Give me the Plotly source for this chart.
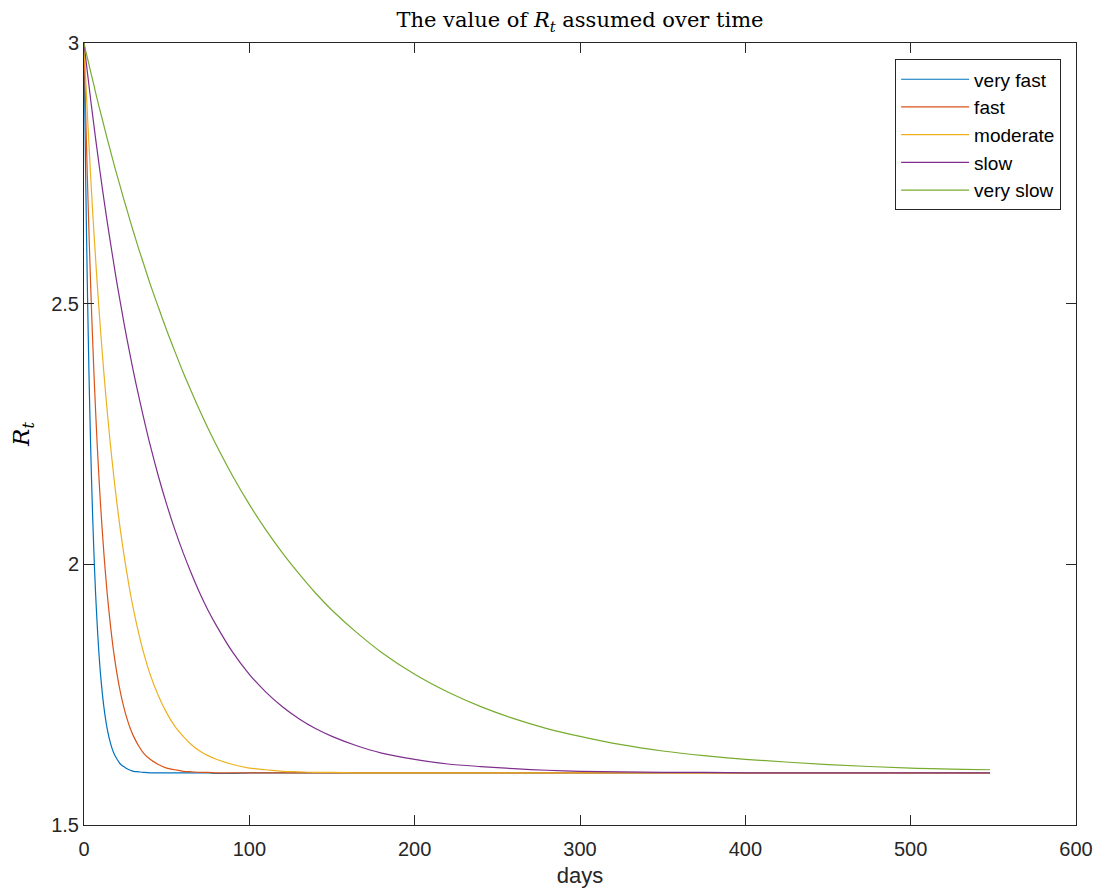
import plotly.graph_objects as go

days = [0, 1, 2, 3, 4, 5, 6, 7, 8, 9, 10, 12, 14, 16, 18, 20, 22, 24, 26, 28, 30, 33, 36, 40,
        45, 50, 55, 60, 65, 70, 75, 80, 90, 100, 110, 120, 130, 140, 150, 165, 180, 200,
        220, 240, 260, 280, 300, 325, 350, 375, 400, 450, 500, 548]

very_fast = [3.000, 2.746, 2.538, 2.368, 2.229, 2.115, 2.022, 1.945, 1.883, 1.831, 1.789,
             1.727, 1.685, 1.657, 1.638, 1.626,
             1.617, 1.612, 1.608, 1.605, 1.603,
             1.602, 1.601, 1.600,
             1.600, 1.600, 1.600, 1.600, 1.600, 1.600, 1.600, 1.599,
             1.599, 1.600, 1.600, 1.600, 1.600, 1.600, 1.600,
             1.600, 1.600, 1.600,
             1.600, 1.600, 1.600, 1.600, 1.600,
             1.600, 1.600, 1.600, 1.600,
             1.600, 1.600, 1.600]
fast = [3.000, 2.867, 2.746, 2.637, 2.538, 2.449, 2.368, 2.295, 2.229, 2.169, 2.115,
        2.022, 1.945, 1.883, 1.831, 1.789,
        1.755, 1.727, 1.704, 1.685, 1.670,
        1.652, 1.638, 1.626,
        1.616, 1.609, 1.606, 1.603, 1.602, 1.601, 1.601, 1.600,
        1.600, 1.600, 1.600, 1.600, 1.600, 1.600, 1.600,
        1.600, 1.600, 1.600,
        1.600, 1.600, 1.600, 1.600, 1.600,
        1.600, 1.600, 1.600, 1.600,
        1.600, 1.600, 1.600]
moderate = [3.000, 2.932, 2.867, 2.805, 2.746, 2.690, 2.637, 2.587, 2.538, 2.493, 2.449,
            2.368, 2.295, 2.229, 2.169, 2.115,
            2.066, 2.022, 1.982, 1.945, 1.912,
            1.869, 1.831, 1.789,
            1.748, 1.715, 1.689, 1.670, 1.654, 1.642, 1.633, 1.626,
            1.616, 1.609, 1.606, 1.603, 1.602, 1.601, 1.601,
            1.600, 1.600, 1.600,
            1.600, 1.600, 1.600, 1.600, 1.600,
            1.600, 1.600, 1.600, 1.600,
            1.600, 1.600, 1.600]
slow = [3.000, 2.972, 2.945, 2.919, 2.892, 2.867, 2.842, 2.817, 2.793, 2.769, 2.746,
        2.701, 2.658, 2.617, 2.577, 2.538,
        2.502, 2.466, 2.432, 2.400, 2.368,
        2.324, 2.282, 2.229,
        2.169, 2.115, 2.066, 2.022, 1.982, 1.945, 1.912, 1.883,
        1.831, 1.789, 1.755, 1.727, 1.704, 1.685, 1.670,
        1.652, 1.638, 1.626,
        1.617, 1.612, 1.608, 1.605, 1.603,
        1.602, 1.601, 1.601, 1.600,
        1.600, 1.600, 1.600]
very_slow = [3.000, 2.986, 2.972, 2.959, 2.945, 2.932, 2.919, 2.905, 2.892, 2.879, 2.867,
             2.842, 2.817, 2.793, 2.769, 2.746,
             2.724, 2.701, 2.680, 2.658, 2.637,
             2.606, 2.577, 2.538,
             2.493, 2.449, 2.408, 2.368, 2.331, 2.295, 2.261, 2.229,
             2.169, 2.115, 2.066, 2.022, 1.982, 1.945, 1.912,
             1.869, 1.831, 1.789,
             1.755, 1.727, 1.704, 1.685, 1.670,
             1.654, 1.642, 1.633, 1.626,
             1.616, 1.609, 1.606]

names = ["very fast", "fast", "moderate", "slow", "very slow"]
series = [very_fast, fast, moderate, slow, very_slow]
colors = ["#0072BD", "#D95319", "#EDB120", "#7E2F8E", "#77AC30"]

x_ticks = [0, 100, 200, 300, 400, 500, 600]
y_ticks = [1.5, 2, 2.5, 3]
y_tick_labels = ["1.5", "2", "2.5", "3"]

fig = go.Figure()
for name, vals, col in zip(names, series, colors):
    fig.add_trace(go.Scatter(x=days, y=vals, mode="lines", name=name,
                             line=dict(color=col, width=1.2, shape="spline", smoothing=0.8)))

axis_common = dict(showline=True, linecolor="#262626", linewidth=1, mirror="ticks",
                   ticks="inside", ticklen=10, tickcolor="#262626", tickwidth=1,
                   showgrid=False, zeroline=False, automargin=False,
                   tickfont=dict(family="Liberation Sans, Arial", size=20, color="#262626"))

W, H = 1085, 880
L, R, T, B = 76, 17, 35, 63

fig.update_layout(
    width=W, height=H,
    margin=dict(l=L, r=R, t=T, b=B),
    paper_bgcolor="white", plot_bgcolor="white",
    title=dict(text="The value of <i>R</i><sub><i>t</i></sub> assumed over time",
               x=(L + (W - R)) / 2 / W, xanchor="center", y=1 - 12 / H, yanchor="middle",
               font=dict(family="DejaVu Serif, Liberation Serif, serif", size=21, color="black")),
    xaxis=dict(range=[0, 600], tickvals=x_ticks, ticklabelstandoff=6,
               title=dict(text="days", standoff=10,
                          font=dict(family="Liberation Sans, Arial", size=22, color="#262626")),
               **axis_common),
    yaxis=dict(range=[1.5, 3], tickvals=y_ticks, ticktext=y_tick_labels,
               title=dict(text="<i>R</i><sub><i>t</i></sub>", standoff=18,
                          font=dict(family="DejaVu Serif, Liberation Serif, serif", size=23, color="black")),
               **axis_common),
    legend=dict(x=0.985, y=0.979, xanchor="right", yanchor="top",
                bgcolor="white", bordercolor="#262626", borderwidth=1,
                font=dict(family="Liberation Sans, Arial", size=19, color="black"),
                itemwidth=68, tracegroupgap=0),
    showlegend=True,
)

fig.write_html("out.html")
